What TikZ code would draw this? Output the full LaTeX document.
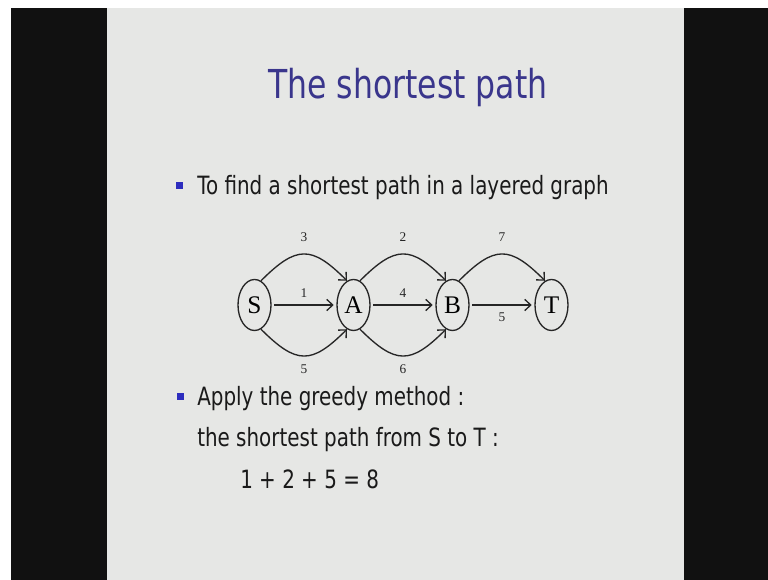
\documentclass[tikz,border=0pt]{standalone}
\usepackage{fontspec}
\setmainfont{Liberation Serif}
\setsansfont{DejaVu Sans}[FakeStretch=0.79]
\usetikzlibrary{positioning,shapes.geometric,arrows.meta}
\definecolor{slidebg}{HTML}{E6E7E5}
\definecolor{strip}{HTML}{111111}
\definecolor{titleblue}{RGB}{58,54,140}
\definecolor{bulletblue}{RGB}{45,45,190}
\definecolor{bodytext}{HTML}{1A1A1A}

\begin{document}
\begin{tikzpicture}[x=0.75pt,y=-0.75pt]
\tikzstyle{title}  = [inner sep=0, anchor=base west, text=titleblue, font=\sffamily\fontsize{29.9}{36}\selectfont]
\tikzstyle{body}   = [inner sep=0, anchor=base west, text=bodytext, font=\sffamily\fontsize{18.9}{23}\selectfont]
\tikzstyle{bullet} = [rectangle, fill=bulletblue, minimum size=5.25pt, inner sep=0]
\tikzstyle{vertex} = [ellipse, draw=black!85, line width=1pt, minimum width=24.75pt, minimum height=38.25pt, inner sep=0, font=\fontsize{19}{22}\selectfont]
\tikzstyle{arrow}  = [line width=1pt, black!85, -{Straight Barb[length=4.5pt,width=8.5pt]}]
\tikzstyle{weight} = [font=\fontsize{10}{12}\selectfont, inner sep=1pt, text=black!85]

% slide and black borders
\fill[white]   (0,0)   rectangle (768,580);
\fill[strip]   (11,8)  rectangle (768,580);
\fill[slidebg] (107,8) rectangle (684,580);

\node (head) [title] at (268,99) {The shortest path};

\node (b1)    [bullet] at (179.5,185.5) {};
\node (line1) [body]   at (197,195) {To find a shortest path in a layered graph};

% layered graph
\node (S) [vertex] at (254.5,305) {S};
\node (A) [vertex] at (353.5,305) {A};
\node (B) [vertex] at (452.5,305) {B};
\node (T) [vertex] at (551.5,305) {T};

\draw [arrow, shorten <=2pt, shorten >=2pt] (S) -- node[weight, above=4pt] {1} (A);
\draw [arrow, shorten <=2pt, shorten >=2pt] (A) -- node[weight, above=4pt] {4} (B);
\draw [arrow, shorten <=2pt, shorten >=2pt] (B) -- node[weight, below=4pt] {5} (T);

\draw [arrow] (S.75)  to[out=45,  in=135,  looseness=1.5] node[weight, above=8pt] {3} (A.105);
\draw [arrow] (A.75)  to[out=45,  in=135,  looseness=1.5] node[weight, above=8pt] {2} (B.105);
\draw [arrow] (B.75)  to[out=45,  in=135,  looseness=1.5] node[weight, above=8pt] {7} (T.105);
\draw [arrow] (S.-75) to[out=-45, in=-135, looseness=1.5] node[weight, below=5pt] {5} (A.-105);
\draw [arrow] (A.-75) to[out=-45, in=-135, looseness=1.5] node[weight, below=5pt] {6} (B.-105);

\node (b2)    [bullet] at (180.5,397) {};
\node (line2) [body]   at (197,406) {Apply the greedy method :};
\node (line3) [body]   at (197,447) {the shortest path from S to T :};
\node (line4) [body]   at (240,489) {1 + 2 + 5 = 8};
\end{tikzpicture}
\end{document}
